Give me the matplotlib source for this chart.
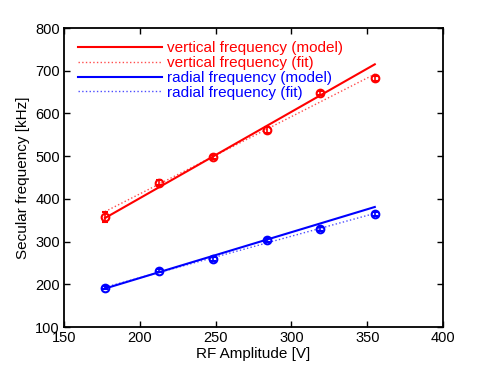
import numpy as np
import matplotlib
matplotlib.use("Agg")
import matplotlib.pyplot as plt

plt.rcParams['font.family'] = ['Liberation Sans', 'DejaVu Sans']

# measured data (RF amplitude in V, secular frequencies in kHz)
rf_amp = [177, 213, 248, 284, 319, 355]
vert_freq = [358, 438, 498, 562, 647, 682]
vert_err = [12, 5, 5, 7, 5, 5]
rad_freq = [192, 232, 259, 304, 329, 365]
rad_err = [4, 3, 4, 4, 4, 4]

line_amp = [177, 355]
vert_model = [355, 715]
vert_fit = [370, 692]
rad_model = [190, 381]
rad_fit = [193, 366]

fig = plt.figure(figsize=(4.91, 3.68), dpi=100)
ax = fig.add_axes([0.1303, 0.1114, 0.772, 0.8125])

ax.plot(line_amp, vert_model, '-', color='red', lw=1.5, label='vertical frequency (model)')
ax.plot(line_amp, vert_fit, ':', color='red', lw=1.0, alpha=0.7, label='vertical frequency (fit)')
ax.plot(line_amp, rad_model, '-', color='blue', lw=1.5, label='radial frequency (model)')
ax.plot(line_amp, rad_fit, ':', color='blue', lw=1.0, alpha=0.7, label='radial frequency (fit)')

ax.errorbar(rf_amp, vert_freq, yerr=vert_err, fmt='o', mfc='none', mec='red', ecolor='red',
            ms=5.5, mew=1.5, elinewidth=1.2, capsize=2.5)
ax.errorbar(rf_amp, rad_freq, yerr=rad_err, fmt='o', mfc='none', mec='blue', ecolor='blue',
            ms=5.5, mew=1.5, elinewidth=1.2, capsize=2.5)

ax.set_xlim(150, 400)
ax.set_ylim(100, 800)
ax.set_xticks(np.arange(150, 401, 50))
ax.set_yticks(np.arange(100, 801, 100))
ax.tick_params(direction='in', top=True, right=True, length=4, width=1, labelsize=10.5, pad=3)
for s in ax.spines.values():
    s.set_linewidth(1.3)

ax.set_xlabel('RF Amplitude [V]', fontsize=11, labelpad=1)
ax.set_ylabel('Secular frequency [kHz]', fontsize=11, labelpad=4)

leg = ax.legend(loc='upper left', bbox_to_anchor=(0.037, 0.955), frameon=False,
                fontsize=11, handlelength=5.5, handletextpad=0.35, labelspacing=0.05,
                borderpad=0, borderaxespad=0)
for txt, c in zip(leg.get_texts(), ['red', 'red', 'blue', 'blue']):
    txt.set_color(c)

fig.savefig('out.png', dpi=100)
